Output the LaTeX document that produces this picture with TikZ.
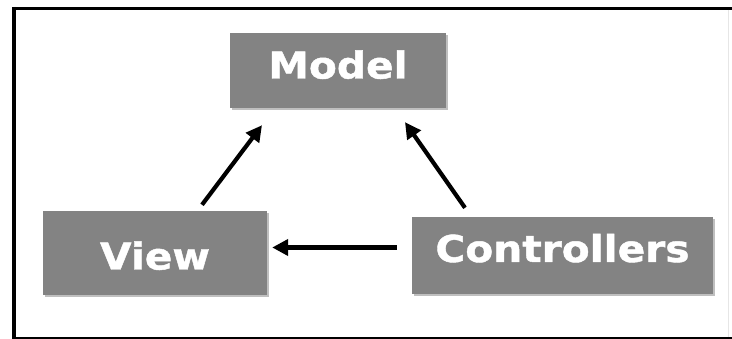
\documentclass[tikz,border=0pt]{standalone}
\usepackage{fontspec}
\setmainfont{DejaVu Sans}
\newfontfamily\boxfont[FakeBold=1.2,FakeStretch=1.1]{DejaVu Sans Bold}
\usetikzlibrary{arrows.meta,shadows}
\definecolor{boxgray}{HTML}{838383}
\definecolor{framegray}{HTML}{E6E6E6}
\tikzset{
  mvcbox/.style={draw=none, fill=boxgray, text=white, inner sep=0pt,
    font=\boxfont\fontsize{37}{40}\selectfont,
    text height=27pt, text depth=0pt,
    drop shadow={shadow xshift=1.5pt, shadow yshift=-2.5pt, opacity=0.25, fill=black}},
  flow/.style={line width=4.2pt, draw=black,
    -{Triangle[length=16pt,width=16pt]}},
  frameline/.style={draw=black, line cap=butt}
}
\begin{document}
\begin{tikzpicture}[x=1pt,y=-1pt]
  \useasboundingbox (0,0) rectangle (732,339);
  % outer frame
  \draw[frameline, line width=3pt] (12,8.5) -- (732,8.5);
  \draw[frameline, line width=4pt] (14,7) -- (14,339);
  \draw[frameline, line width=2pt] (12,338) -- (732,338);
  \draw[framegray, line width=1pt] (728,10) -- (728,337);
  % the three components
  \node[mvcbox, minimum width=216pt, minimum height=75pt] (model) at (338,70.5)
    {\raisebox{5.5pt}{Model}};
  \node[mvcbox, minimum width=224pt, minimum height=84pt] (view) at (155,253)
    {\raisebox{-3pt}{View}};
  \node[mvcbox, minimum width=301pt, minimum height=77pt] (ctrl) at (562.5,255.5)
    {\raisebox{7pt}{Controllers}};
  % interactions
  \draw[flow] ([shift={(47,-6)}]view.north) -- ([shift={(-76,17)}]model.south);
  \draw[flow] ([shift={(-97.5,-9)}]ctrl.north) -- ([shift={(67,14)}]model.south);
  \draw[flow] ([shift={(-15,-8)}]ctrl.west) -- ([shift={(5,-5.5)}]view.east);
\end{tikzpicture}
\end{document}
